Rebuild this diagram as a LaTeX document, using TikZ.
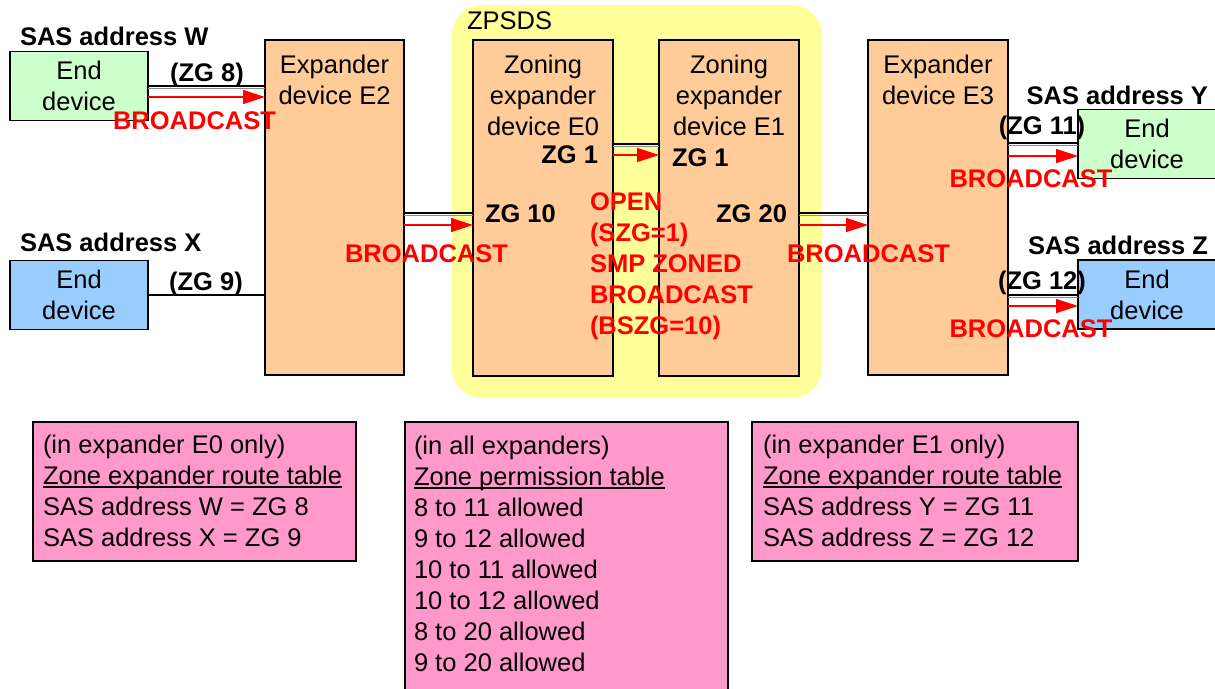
\documentclass[tikz,border=0pt]{standalone}
\usepackage{fontspec}
\setmainfont{Liberation Sans}
\usetikzlibrary{arrows.meta}
\definecolor{endgreen}{HTML}{CCFFCC}
\definecolor{endblue}{HTML}{99CCFF}
\definecolor{expor}{HTML}{FFCC99}
\definecolor{zyellow}{HTML}{FFFF99}
\definecolor{tpink}{HTML}{FF99CC}
\definecolor{bred}{HTML}{FF0000}
\newcommand\myul[1]{\setbox0\hbox{#1}\rlap{\rule[-2.6pt]{\wd0}{1.3pt}}\box0}
\begin{document}
\begin{tikzpicture}[x=1pt,y=-1pt,
  every node/.style={font=\fontsize{25.5}{31}\selectfont, inner sep=0pt, outer sep=0pt},
  lbl/.style={font=\fontsize{25.5}{31}\selectfont\bfseries},
  redlbl/.style={lbl, text=bred},
  devbox/.style={draw=black, line width=1.2pt, minimum width=138pt, minimum height=69pt, align=center},
  expbox/.style={draw=black, line width=1.2pt, fill=expor, anchor=north west, minimum height=336pt},
  tblbox/.style={draw=black, line width=1.2pt, fill=tpink, anchor=north west},
  tbltext/.style={anchor=north west, align=left},
  title/.style={anchor=north, align=center},
  link/.style={draw=black, line width=1.5pt},
  linkb/.style={draw=black!45, line width=0.5pt},
  arr/.style={draw=bred, line width=1.2pt, -{Triangle[length=22pt,width=14pt]}}
]
\useasboundingbox (0,0) rectangle (1215,688);

% ZPSDS region
\node[fill=zyellow, rounded corners=30pt, anchor=north west, minimum width=370pt, minimum height=393pt] (zpsds) at (452,5) {};
\node[anchor=base west] (zpsdsl) at (467,29) {ZPSDS};

% expanders
\node[expbox, minimum width=139pt, minimum height=335pt] (E2) at (265,40) {};
\node[expbox, minimum width=140pt] (E0) at (473,40) {};
\node[expbox, minimum width=140pt] (E1) at (659,40) {};
\node[expbox, minimum width=140pt, minimum height=335pt] (E3) at (868,40) {};
\node[title] (E2t) at ([yshift=-15pt]E2.north) {Expander\\device E2};
\node[title] (E0t) at ([yshift=-15pt]E0.north) {Zoning\\expander\\device E0};
\node[title] (E1t) at ([yshift=-15pt]E1.north) {Zoning\\expander\\device E1};
\node[title] (E3t) at ([yshift=-15pt]E3.north) {Expander\\device E3};

% end devices
\node[devbox, fill=endgreen] (W) at (79,86) {End\\device};
\node[devbox, fill=endblue] (X) at (79,295) {End\\device};
\node[devbox, fill=endgreen] (Y) at (1147,144) {End\\device};
\node[devbox, fill=endblue] (Z) at (1147,294.5) {End\\device};

% link heights
\coordinate (yW) at (0,86);   \coordinate (yWa) at (0,97);
\coordinate (yX) at (0,295);
\coordinate (yA) at (0,213);  \coordinate (yAa) at (0,225);
\coordinate (yB) at (0,144);  \coordinate (yBa) at (0,155);
\coordinate (yY) at (0,143);  \coordinate (yYa) at (0,156);
\coordinate (yZ) at (0,295);  \coordinate (yZa) at (0,306);

% links
\draw[link] (W.east |- yW) -- (E2.west |- yW);
\draw[linkb] ([yshift=-2.5pt]W.east |- yW) -- ([yshift=-2.5pt]E2.west |- yW);
\draw[arr] (W.east |- yWa) -- (E2.west |- yWa);

\draw[link] (X.east |- yX) -- (E2.west |- yX);

\draw[link] (E2.east |- yA) -- (E0.west |- yA);
\draw[linkb] ([yshift=-2.5pt]E2.east |- yA) -- ([yshift=-2.5pt]E0.west |- yA);
\draw[arr] (E2.east |- yAa) -- (E0.west |- yAa);

\draw[link] (E0.east |- yB) -- (E1.west |- yB);
\draw[linkb] ([yshift=-2.5pt]E0.east |- yB) -- ([yshift=-2.5pt]E1.west |- yB);
\draw[arr] (E0.east |- yBa) -- (E1.west |- yBa);

\draw[link] (E1.east |- yA) -- (E3.west |- yA);
\draw[linkb] ([yshift=-2.5pt]E1.east |- yA) -- ([yshift=-2.5pt]E3.west |- yA);
\draw[arr] (E1.east |- yAa) -- (E3.west |- yAa);

\draw[link] (E3.east |- yY) -- (Y.west |- yY);
\draw[linkb] ([yshift=-2.5pt]E3.east |- yY) -- ([yshift=-2.5pt]Y.west |- yY);
\draw[arr] (E3.east |- yYa) -- (Y.west |- yYa);

\draw[link] (E3.east |- yZ) -- (Z.west |- yZ);
\draw[linkb] ([yshift=-2.5pt]E3.east |- yZ) -- ([yshift=-2.5pt]Z.west |- yZ);
\draw[arr] (E3.east |- yZa) -- (Z.west |- yZa);

% labels
\node[lbl, anchor=base west] (sasW) at (20,45) {SAS address W};
\node[lbl, anchor=base] (zg8) at (207,81) {(ZG 8)};
\node[redlbl, anchor=base] (bcW) at (194.5,129) {BROADCAST};
\node[lbl, anchor=base west] (sasX) at (20,251) {SAS address X};
\node[lbl, anchor=base] (zg9) at (206,290) {(ZG 9)};
\node[lbl, anchor=base east] (zg1a) at (598,163) {ZG 1};
\node[lbl, anchor=base west] (zg10) at (485,222) {ZG 10};
\node[lbl, anchor=base west] (zg1b) at (672,166) {ZG 1};
\node[lbl, anchor=base east] (zg20) at (787,222) {ZG 20};
\node[redlbl, anchor=north west, align=left] (open) at (590,192.5) {OPEN\\(SZG=1)\\SMP ZONED\\BROADCAST\\(BSZG=10)};
\node[redlbl, anchor=base] (bcA) at (426.5,262) {BROADCAST};
\node[redlbl, anchor=base] (bcB) at (868.5,262) {BROADCAST};
\node[lbl, anchor=base east] (sasY) at (1208,104) {SAS address Y};
\node[lbl, anchor=base] (zg11) at (1042,134) {(ZG 11)};
\node[redlbl, anchor=base] (bcY) at (1031,187) {BROADCAST};
\node[lbl, anchor=base east] (sasZ) at (1208,254) {SAS address Z};
\node[lbl, anchor=base] (zg12) at (1042,289) {(ZG 12)};
\node[redlbl, anchor=base] (bcZ) at (1031,337) {BROADCAST};

% tables
\node[tblbox, minimum width=323pt, minimum height=139pt] (tabA) at (33,422) {};
\node[tbltext] (tabAt) at (43,435.5) {(in expander E0 only)\\\myul{Zone expander route table}\\SAS address W = ZG 8\\SAS address X = ZG 9};
\node[tblbox, minimum width=323pt, minimum height=280pt] (tabB) at (405,422) {};
\node[tbltext] (tabBt) at (414,436.5) {(in all expanders)\\\myul{Zone permission table}\\8 to 11 allowed\\9 to 12 allowed\\10 to 11 allowed\\10 to 12 allowed\\8 to 20 allowed\\9 to 20 allowed};
\node[tblbox, minimum width=326pt, minimum height=139pt] (tabC) at (752,422) {};
\node[tbltext] (tabCt) at (763,435.5) {(in expander E1 only)\\\myul{Zone expander route table}\\SAS address Y = ZG 11\\SAS address Z = ZG 12};
\end{tikzpicture}
\end{document}
